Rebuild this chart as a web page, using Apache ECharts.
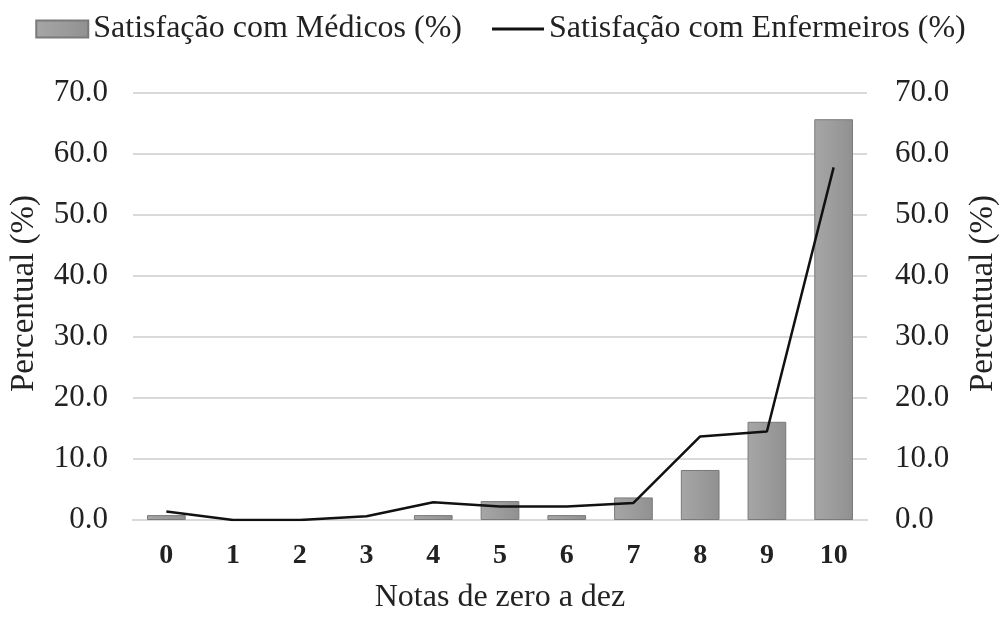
<!DOCTYPE html>
<html><head><meta charset="utf-8">
<script src="https://cdn.jsdelivr.net/npm/echarts@6/dist/echarts.min.js"></script>
<style>html,body{margin:0;padding:0;background:#fff}#c{width:1001px;height:617px}</style>
</head><body><div id="c"></div>
<script>
const categories = ['0','1','2','3','4','5','6','7','8','9','10'];
const medicos = [0.8, 0, 0, 0, 0.8, 3.1, 0.8, 3.7, 8.2, 16.1, 65.7];
const enfermeiros = [1.4, 0, 0, 0.6, 2.9, 2.2, 2.2, 2.8, 13.7, 14.5, 57.8];
const seriesNames = ['Satisfação com Médicos (%)', 'Satisfação com Enfermeiros (%)'];
const yAxisName = 'Percentual (%)';
const xAxisName = 'Notas de zero a dez';

const font = 'Liberation Serif';
const txt = '#222';
const chart = echarts.init(document.getElementById('c'));
const yAx = (pos, gap) => ({
  type: 'value', position: pos, min: 0, max: 70, interval: 10,
  name: yAxisName, nameLocation: 'middle', nameGap: gap, nameRotate: 90,
  nameTextStyle: {fontFamily: font, fontSize: 33, color: txt, padding: [0, 0, 0, 26]},
  axisLabel: {fontFamily: font, fontSize: 31, color: txt, margin: pos === 'left' ? 25 : 28,
    formatter: v => v.toFixed(1)},
  axisLine: {show: false}, axisTick: {show: false},
  splitLine: {show: pos === 'left', lineStyle: {color: '#d9d9d9', width: 2}}
});
chart.setOption({
  animation: false,
  legend: {
    top: 8, left: 'center', itemGap: 30, itemWidth: 52, itemHeight: 17,
    textStyle: {fontFamily: font, fontSize: 32, color: txt},
    data: [
      {name: seriesNames[0], icon: 'rect'},
      {name: seriesNames[1], icon: 'path://M0,0H52V3H0Z'}
    ]
  },
  grid: {left: 133, right: 134, top: 93, bottom: 97, outerBoundsMode: 'none'},
  xAxis: {
    type: 'category', data: categories,
    name: xAxisName, nameLocation: 'middle', nameGap: 62,
    nameTextStyle: {fontFamily: font, fontSize: 32, color: txt},
    axisLabel: {fontFamily: font, fontSize: 28, fontWeight: 'bold', color: txt, margin: 22},
    axisLine: {lineStyle: {color: '#d9d9d9', width: 2}}, axisTick: {show: false}
  },
  yAxis: [yAx('left', 92), yAx('right', 100)],
  series: [
    {
      name: seriesNames[0], type: 'bar', data: medicos.map(v => v === 0 ? null : v),
      barWidth: '58%', yAxisIndex: 0,
      itemStyle: {
        color: new echarts.graphic.LinearGradient(0, 0, 1, 0, [
          {offset: 0, color: '#a6a6a6'}, {offset: 0.5, color: '#9c9c9c'}, {offset: 1, color: '#909090'}
        ]),
        borderColor: '#7a7a7a', borderWidth: 1
      }
    },
    {
      name: seriesNames[1], type: 'line', data: enfermeiros, yAxisIndex: 1,
      smooth: false, symbol: 'none',
      lineStyle: {color: '#111', width: 2.5}, itemStyle: {color: '#111'}
    }
  ]
});
</script></body></html>
